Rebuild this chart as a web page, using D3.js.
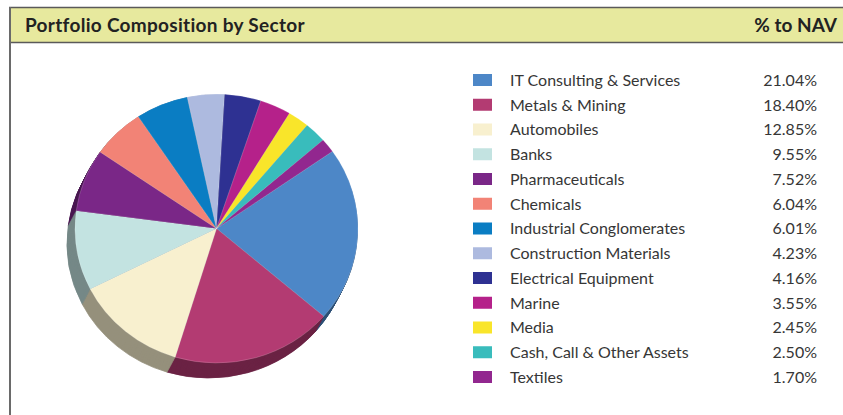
<!DOCTYPE html>
<html><head><meta charset="utf-8">
<script src="https://cdn.jsdelivr.net/npm/d3@7/dist/d3.min.js"></script>
<style>
html,body{margin:0;padding:0;background:#fff;}
svg{display:block;}
</style></head>
<body><svg id="chart" width="843" height="415"></svg>
<script>
const title = "Portfolio Composition by Sector";
const valueHeader = "% to NAV";
const categories = ["IT Consulting & Services","Metals & Mining","Automobiles","Banks","Pharmaceuticals","Chemicals","Industrial Conglomerates","Construction Materials","Electrical Equipment","Marine","Media","Cash, Call & Other Assets","Textiles"];
const values = [21.04,18.40,12.85,9.55,7.52,6.04,6.01,4.23,4.16,3.55,2.45,2.50,1.70];
const palette = ["#4d87c7","#b33b72","#f8f0cf","#c3e3e1","#7a2787","#f28376","#0a7dc3","#adbadf","#2e3192","#b5218a","#f9e52a","#39bcbc","#92278f"];

(function(){
const svg = d3.select("#chart");
const W = 843, H = 415;

// header band
svg.append("rect").attr("x",9).attr("y",8).attr("width",W).attr("height",34.5).attr("fill","#e7e99e");
svg.append("line").attr("x1",9).attr("x2",W).attr("y1",7.5).attr("y2",7.5).attr("stroke","#5a5a5a").attr("stroke-width",1.5);
svg.append("line").attr("x1",9).attr("x2",W).attr("y1",42.5).attr("y2",42.5).attr("stroke","#5a5a5a").attr("stroke-width",1.5);
svg.append("line").attr("x1",10).attr("x2",10).attr("y1",7).attr("y2",H).attr("stroke","#6a6a6a").attr("stroke-width",2);

svg.append("text").attr("x",25).attr("y",31.5).text(title)
  .attr("font-family","Lato, 'Noto Sans', sans-serif").attr("font-weight",700).attr("font-size",19)
  .attr("letter-spacing",0.3).attr("fill","#222");
svg.append("text").attr("x",837).attr("y",31.5).attr("text-anchor","end").text(valueHeader)
  .attr("font-family","Lato, 'Noto Sans', sans-serif").attr("font-weight",700).attr("font-size",19).attr("fill","#222");

// pie
const cx = 216.5, cy = 228.5, rx = 141.5, ry = 134.5;
const depthX = -8, depthY = 15;
const startA = 55 * Math.PI/180;
const pie = d3.pie().sort(null).value(d=>d).startAngle(startA).endAngle(startA + 2*Math.PI);
const arcs = pie(values);
const arc = d3.arc().innerRadius(0).outerRadius(rx);
const color = d3.scaleOrdinal().domain(categories).range(palette);
const dark = c => { const k = d3.rgb(c); return d3.rgb(k.r*0.6, k.g*0.6, k.b*0.6).toString(); };

const steps = 16;
for (let s = steps; s >= 1; s--) {
  const t = s/steps;
  const g = svg.append("g").attr("transform",`translate(${cx+depthX*t},${cy+depthY*t}) scale(1,${ry/rx})`);
  g.selectAll("path").data(arcs).join("path")
    .attr("d",arc).attr("fill",(d,i)=>dark(color(categories[i])))
    .attr("stroke",(d,i)=>dark(color(categories[i]))).attr("stroke-width",0.8);
}
const face = svg.append("g").attr("transform",`translate(${cx},${cy}) scale(1,${ry/rx})`);
face.selectAll("path").data(arcs).join("path")
  .attr("d",arc).attr("fill",(d,i)=>color(categories[i]))
  .attr("stroke","rgba(255,255,255,0.35)").attr("stroke-width",0.5);

// legend
const y = d3.scalePoint().domain(categories).range([80, 377]);
const fmt = d3.format(".2f");
const lg = svg.append("g");
const rows = lg.selectAll("g").data(categories).join("g").attr("transform",d=>`translate(0,${y(d)})`);
rows.append("rect").attr("x",473).attr("y",-6).attr("width",19).attr("height",12).attr("fill",d=>color(d));
rows.append("text").attr("x",510).attr("y",5.8).text(d=>d)
  .attr("font-family","Lato, 'Open Sans', sans-serif").attr("font-size",16).attr("fill","#363636");
rows.append("text").attr("x",817).attr("y",5.8).attr("text-anchor","end").text((d,i)=>fmt(values[i])+"%")
  .attr("font-family","Lato, 'Open Sans', sans-serif").attr("font-size",16).attr("fill","#363636");
})();
</script></body></html>
